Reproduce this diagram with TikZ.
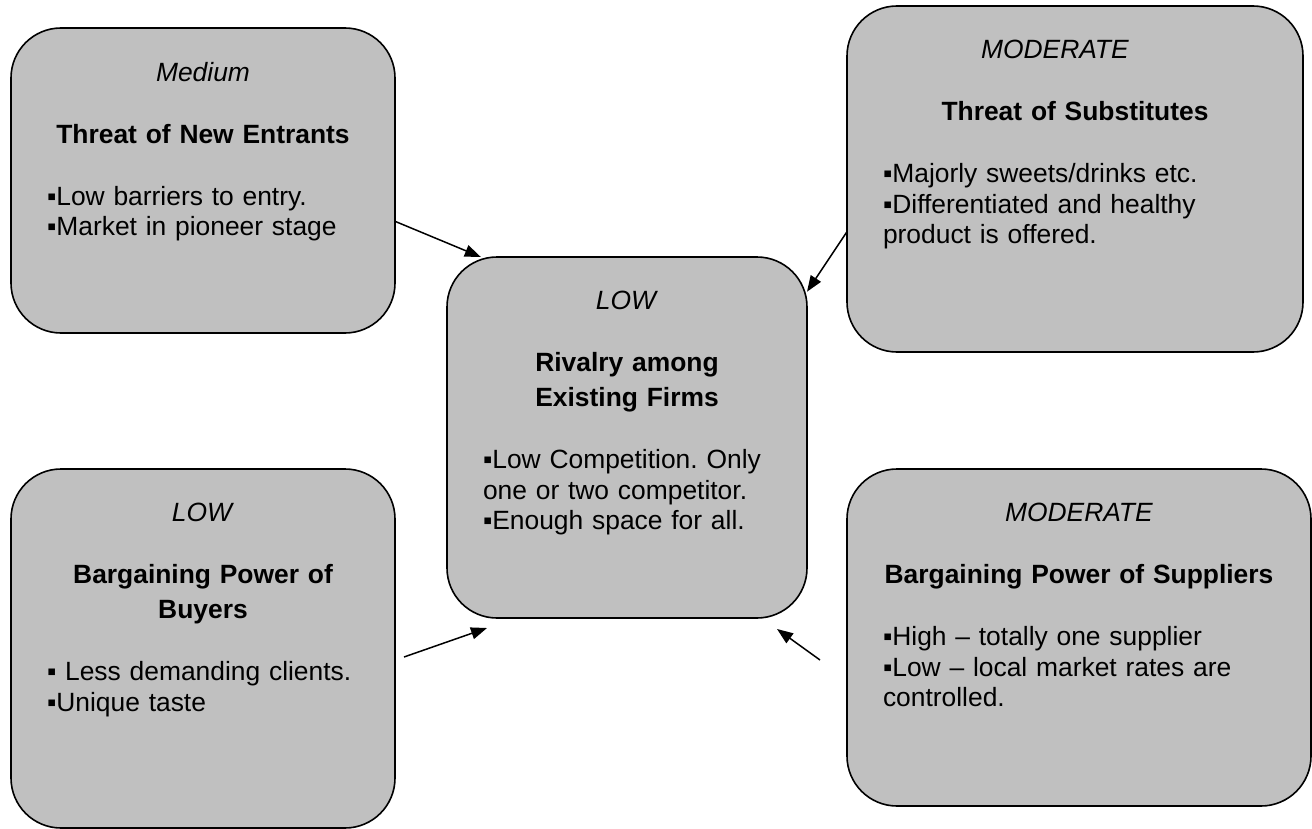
\documentclass[tikz,border=0pt]{standalone}
\usepackage{fontspec}
\setmainfont{Liberation Sans}
\usepackage{tikz}
\usetikzlibrary{positioning,arrows.meta}

\definecolor{boxgray}{HTML}{C0C0C0}
\setlength{\parindent}{0pt}
\setlength{\parskip}{0pt}
\frenchspacing
\newcommand{\gap}{\par\vspace{15.8pt}}

\begin{document}
\begin{tikzpicture}[x=0.5pt,y=-0.5pt,
	force/.style={draw=black, line width=0.8pt, fill=boxgray, rounded corners=25pt, inner sep=0pt, outer sep=0pt},
	forcetext/.style={inner sep=0pt, font=\fontsize{13.2}{15.2}\selectfont},
	push/.style={-{Triangle[length=8pt,width=6pt]}, line width=0.75pt}]
	
	\useasboundingbox (0,0) rectangle (1312,829);
	
	\node[force, minimum width=192pt, minimum height=152.5pt] (entrants) at (203,180.5) {};
	\node[force, minimum width=228pt, minimum height=173pt] (substitutes) at (1075,179) {};
	\node[force, minimum width=180pt, minimum height=180.5pt] (rivalry) at (627,437.5) {};
	\node[force, minimum width=192pt, minimum height=179.5pt] (buyers) at (203,648.5) {};
	\node[force, minimum width=232pt, minimum height=168.5pt] (suppliers) at (1079,637.5) {};
	
	\node[forcetext, text width=156pt, below=17pt of entrants.north] (entrants-text)
		{\centering\textit{Medium}\gap\textbf{Threat of New Entrants}\gap
		\raggedright ▪Low barriers to entry.\\▪Market in pioneer stage\par};
	\node[forcetext, text width=192pt, below=17pt of substitutes.north] (substitutes-text)
		{\centering\textit{MODERATE}\hspace*{20pt}\gap\textbf{Threat of Substitutes}\gap
		\raggedright ▪Majorly sweets/drinks etc.\\▪Differentiated and healthy\\product is offered.\par};
	\node[forcetext, text width=144pt, below=17pt of rivalry.north] (rivalry-text)
		{\centering\textit{LOW}\gap\textbf{Rivalry among\\[2.3pt]Existing Firms}\gap
		\raggedright ▪Low Competition. Only\\one or two competitor.\\▪Enough space for all.\par};
	\node[forcetext, text width=156pt, below=17pt of buyers.north] (buyers-text)
		{\centering\textit{LOW}\gap\textbf{Bargaining Power of\\[2.3pt]Buyers}\gap
		\raggedright ▪ Less demanding clients.\\▪Unique taste\par};
	\node[forcetext, text width=196pt, below=17pt of suppliers.north] (suppliers-text)
		{\centering\textit{MODERATE}\gap\textbf{Bargaining Power of Suppliers}\gap
		\raggedright ▪High – totally one supplier\\▪Low – local market rates are\\controlled.\par};
	
	\coordinate (buyers-out) at (404,657);
	\coordinate (buyers-in) at (487,628);
	\coordinate (suppliers-out) at (820,660);
	\coordinate (suppliers-in) at (777,629);
	
	\draw[push] (entrants.-12.2) -- (rivalry.129.7);
	\draw[push] (substitutes.193.3) -- (rivalry.39.1);
	\draw[push] (buyers-out) -- (buyers-in);
	\draw[push] (suppliers-out) -- (suppliers-in);
	
\end{tikzpicture}
\end{document}
